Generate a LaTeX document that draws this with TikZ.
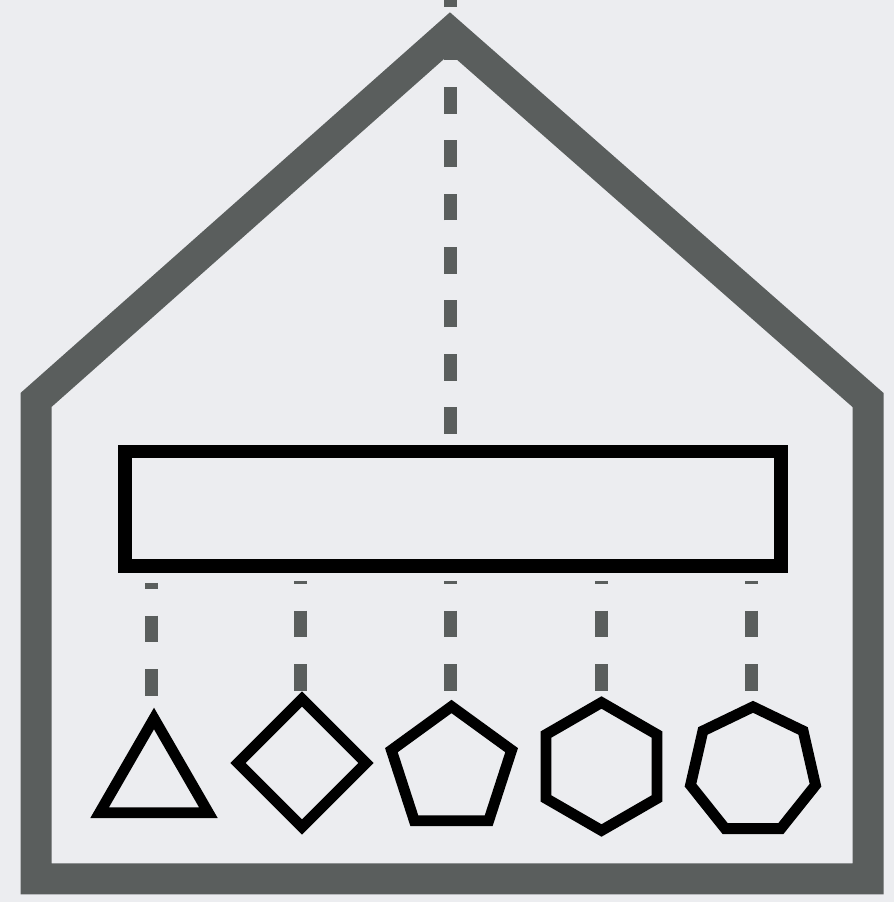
\documentclass[tikz,border=0pt]{standalone}
\usetikzlibrary{calc}
\definecolor{bgc}{HTML}{ECEDF0}
\definecolor{housec}{HTML}{5A5E5D}
\tikzset{
  houseline/.style={draw=housec, line width=31pt, line join=miter},
  dashline/.style={draw=housec, line width=13pt, dash pattern=on 26.7pt off 26.7pt},
  shapeline/.style={draw=black, line width=10.8pt, line join=miter},
  barbox/.style={draw=black, line width=13.5pt, rectangle, inner sep=0pt, minimum width=656pt, minimum height=114.5pt}
}
\begin{document}
\begin{tikzpicture}[x=1pt,y=1pt]
\fill[bgc] (0,0) rectangle (894,902);
\useasboundingbox (0,0) rectangle (894,902);
% house
\coordinate (bl) at (36,23);
\coordinate (br) at (868,23);
\coordinate (rs) at (868,502);
\coordinate (apex) at (450,869);
\coordinate (ls) at (36,502);
\draw[houseline] (bl) -- (br) -- (rs) -- (apex) -- (ls) -- cycle;
% bar
\node[barbox] (bar) at (453,393.25) {};
% top dashed connector
\coordinate (barTop) at (450,468);
\coordinate (roofTop) at (450,902);
\draw[dashline] (barTop) -- (roofTop);
% shape centres
\coordinate (tri) at (154,120.7);
\coordinate (dia) at (302,139);
\coordinate (pen) at (451.5,132.3);
\coordinate (hex) at (601.5,135.5);
\coordinate (hep) at (753,131.1);
% lower dashed connectors
\coordinate (s1) at (151.5,319); \coordinate (e1) at (151.5,206);
\coordinate (s2) at (300,321);   \coordinate (e2) at (300,211);
\coordinate (s3) at (450,321);   \coordinate (e3) at (450,211);
\coordinate (s4) at (601,321);   \coordinate (e4) at (601,211);
\coordinate (s5) at (751.5,321); \coordinate (e5) at (751.5,211);
\draw[dashline, dash phase=20.7pt] (s1) -- (e1);
\foreach \i in {2,...,5} \draw[dashline, dash phase=23.7pt] (s\i) -- (e\i);
% shapes
\draw[shapeline] ($(tri)+(90:62.8)$) -- ($(tri)+(210:62.8)$) -- ($(tri)+(330:62.8)$) -- cycle;
\draw[shapeline] ($(dia)+(90:64)$) -- ($(dia)+(180:64)$) -- ($(dia)+(270:64)$) -- ($(dia)+(0:64)$) -- cycle;
\draw[shapeline] ($(pen)+(90:63.2)$) \foreach \k in {1,...,4} { -- ($(pen)+(90+72*\k:63.2)$) } -- cycle;
\draw[shapeline] ($(hex)+(90:64)$) \foreach \k in {1,...,5} { -- ($(hex)+(90+60*\k:64)$) } -- cycle;
\draw[shapeline] ($(hep)+(90:64.1)$) \foreach \k in {1,...,6} { -- ($(hep)+(90+360/7*\k:64.1)$) } -- cycle;
\end{tikzpicture}
\end{document}
